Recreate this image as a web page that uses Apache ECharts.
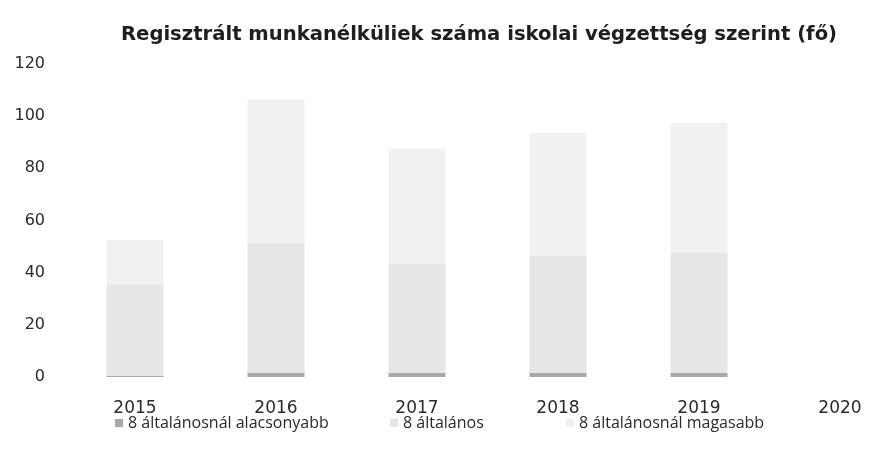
<!DOCTYPE html>
<html>
<head>
<meta charset="utf-8">
<script src="https://cdn.jsdelivr.net/npm/echarts@6/dist/echarts.min.js"></script>
<style>
  html, body { margin: 0; padding: 0; background: #fff; }
  #chart { width: 874px; height: 459px; }
</style>
</head>
<body>
<div id="chart"></div>
<script>
// évek
const years = ['2015', '2016', '2017', '2018', '2019', '2020'];
// sorozatok (fő) - a képről becsülve
const alacsonyabb = [0.5, 1.5, 1.5, 1.5, 1.5, null];
const altalanos = [35, 50, 42, 45, 46, null];
const magasabb = [17, 55, 44, 47, 50, null];
const seriesNames = ['8 általánosnál alacsonyabb', '8 általános', '8 általánosnál magasabb'];

const chart = echarts.init(document.getElementById('chart'));
const font = '"Open Sans", "Noto Sans", sans-serif';
const wide = '"DejaVu Sans", sans-serif';

chart.setOption({
    animation: false,
    title: {
        text: 'Regisztrált munkanélküliek száma iskolai végzettség szerint (fő)',
        left: 116,
        top: 20,
        textStyle: { fontFamily: wide, fontSize: 19.6, fontWeight: 'bold', color: '#1e1e1e' }
    },
    legend: [
        { data: [seriesNames[0]], left: 110, top: 410 },
        { data: [seriesNames[1]], left: 385, top: 410 },
        { data: [seriesNames[2]], left: 561, top: 410 }
    ].map(l => Object.assign(l, {
        icon: 'rect', itemWidth: 8, itemHeight: 8, itemGap: 4,
        textStyle: { fontFamily: font, fontSize: 16, color: '#2a2a2a' }
    })),
    grid: { left: 135, right: 34, top: 64, bottom: 82 },
    xAxis: {
        type: 'category',
        data: years,
        boundaryGap: false,
        axisLine: { show: false },
        axisTick: { show: false },
        axisLabel: { fontFamily: wide, fontSize: 17, color: '#2a2a2a', margin: 23 }
    },
    yAxis: {
        type: 'value',
        min: 0, max: 120, interval: 20,
        splitLine: { show: false },
        axisLine: { show: false },
        axisTick: { show: false },
        axisLabel: { fontFamily: wide, fontSize: 16, color: '#2a2a2a', margin: 90 }
    },
    series: [
        { name: seriesNames[0], type: 'bar', stack: 'a', data: alacsonyabb, barWidth: 57, clip: false,
          itemStyle: { color: '#a9a9a9' } },
        { name: seriesNames[1], type: 'bar', stack: 'a', data: altalanos, barWidth: 57, clip: false,
          itemStyle: { color: '#e6e6e6' } },
        { name: seriesNames[2], type: 'bar', stack: 'a', data: magasabb, barWidth: 57, clip: false,
          itemStyle: { color: '#f1f1f1' } }
    ]
});
</script>
</body>
</html>
